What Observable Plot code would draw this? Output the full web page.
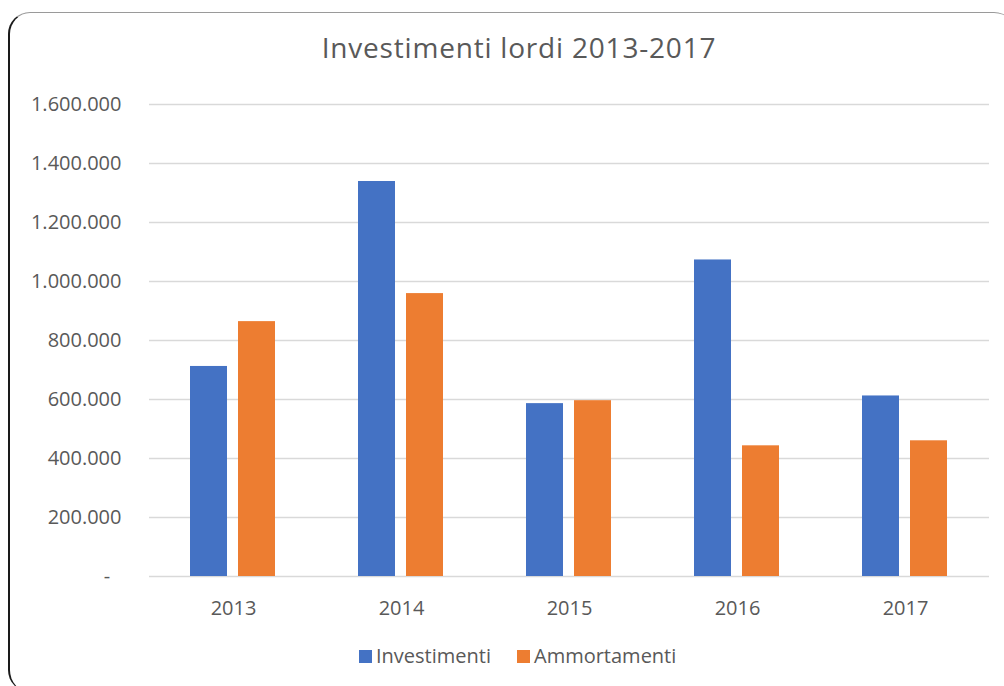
<!DOCTYPE html>
<html lang="it">
<head>
<meta charset="utf-8">
<title>Investimenti lordi 2013-2017</title>
<script src="https://cdn.jsdelivr.net/npm/d3@7"></script>
<script src="https://cdn.jsdelivr.net/npm/@observablehq/plot@0.6"></script>
<style>
  html, body { margin: 0; padding: 0; background: #fff; overflow: hidden; }
  #page { position: relative; width: 1004px; height: 686px; overflow: hidden; font-family: "Open Sans", sans-serif; color: #595959; }
  #box {
    position: absolute; left: 8px; top: 12px; width: 1008px; height: 680px;
    border-top: 1px solid #9a9a9a; border-left: 2px solid #1a1a1a;
    border-radius: 22px; box-sizing: border-box;
  }
  #title { position: absolute; left: 0; top: 33px; width: 1038px; text-align: center; font-size: 28px; line-height: 28px; letter-spacing: 0.8px; white-space: nowrap; }
  #chart { position: absolute; left: 0; top: 0; }
  #legend { position: absolute; left: 359px; top: 646px; display: flex; font-size: 20px; line-height: 20px; white-space: nowrap; }
  .item { display: flex; align-items: center; margin-right: 26px; }
  .swatch { width: 13px; height: 13px; margin-right: 4px; }
</style>
</head>
<body>
<div id="page">
  <div id="box"></div>
  <div id="chart"></div>
  <div id="title">Investimenti lordi 2013-2017</div>
  <div id="legend"></div>
</div>
<script>
// Gross investments vs. depreciation, euro
const years = ["2013", "2014", "2015", "2016", "2017"];
const investimenti = [712000, 1339000, 586000, 1073000, 612000];
const ammortamenti = [864000, 959000, 596000, 443000, 460000];
const seriesNames = ["Investimenti", "Ammortamenti"];
const seriesColors = ["#4472C4", "#ED7D31"];
const yTicks = [0, 200000, 400000, 600000, 800000, 1000000, 1200000, 1400000, 1600000];

// long table for the grouped bars
const rows = [];
years.forEach((year, i) => {
  rows.push({year, series: seriesNames[0], value: investimenti[i]});
  rows.push({year, series: seriesNames[1], value: ammortamenti[i]});
});

// Italian thousands separator; zero shown as a dash
const fmt = d => d === 0 ? "-\u2007" : d3.format(",")(d).replace(/,/g, ".");

const chart = Plot.plot({
  width: 1004,
  height: 640,
  marginLeft: 148,
  marginRight: 15,
  marginTop: 104,
  marginBottom: 64,
  style: {fontFamily: "'Open Sans', sans-serif", fontSize: "20px", color: "#595959", background: "transparent", overflow: "visible"},
  fx: {domain: years, padding: 0, label: null, tickSize: 0, tickPadding: 24, axis: "bottom"},
  x: {domain: seriesNames, axis: null, paddingInner: 0.229, paddingOuter: 0.864},
  y: {domain: [0, 1600000], ticks: yTicks, tickSize: 0, tickPadding: 28, label: null, tickFormat: fmt},
  color: {domain: seriesNames, range: seriesColors},
  marks: [
    Plot.ruleY(yTicks, {stroke: "#d9d9d9", strokeWidth: 1.6}),
    Plot.barY(rows, {fx: "year", x: "series", y: "value", fill: "series"})
  ]
});
document.getElementById("chart").appendChild(chart);

// legend below the plot
const legend = d3.select("#legend");
seriesNames.forEach((name, i) => {
  const item = legend.append("div").attr("class", "item");
  item.append("div").attr("class", "swatch").style("background", seriesColors[i]);
  item.append("span").text(name);
});
</script>
</body>
</html>
